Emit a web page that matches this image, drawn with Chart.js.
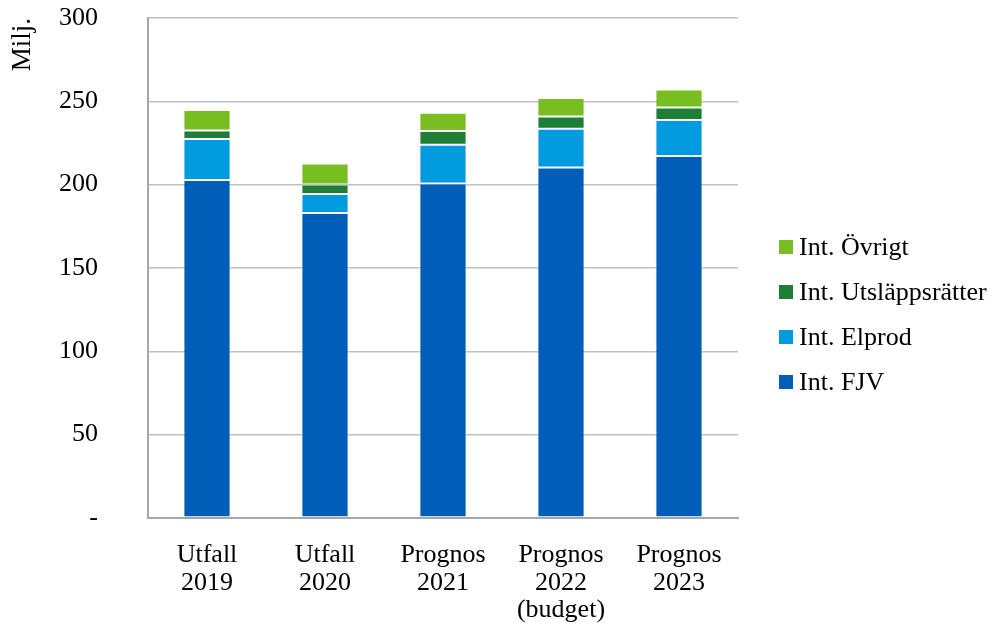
<!DOCTYPE html>
<html>
<head>
<meta charset="utf-8">
<script src="https://cdn.jsdelivr.net/npm/chart.js@4"></script>
<style>
  html,body{margin:0;padding:0;background:#fff;}
  #wrap{width:999px;height:623px;}
</style>
</head>
<body>
<div id="wrap"><canvas id="c" width="999" height="623"></canvas></div>
<script>
const categories = [['Utfall','2019'],['Utfall','2020'],['Prognos','2021'],['Prognos','2022','(budget)'],['Prognos','2023']];
const fjv = [202.8, 183.0, 200.7, 210.3, 217.2];
const elprod = [24.6, 11.4, 23.2, 23.2, 21.6];
const utslapp = [5.1, 5.7, 8.3, 7.4, 7.5];
const ovrigt = [12.3, 12.6, 10.9, 11.1, 10.8];
const yTicks = [0, 50, 100, 150, 200, 250, 300];

const FONT = '"Liberation Serif", "Times New Roman", serif';
const SEG = 'rgba(255,255,255,0.3)';

function ds(label, data, color){
  return { label, data, backgroundColor: color, borderColor: SEG, borderWidth: 1, borderSkipped: false,
           barPercentage: 0.4, categoryPercentage: 1 };
}

// legend drawn on the right, top item = last dataset
const sideLegend = {
  id: 'sideLegend',
  afterDraw(chart) {
    const ctx = chart.ctx;
    const items = chart.data.datasets.slice().reverse();
    ctx.save();
    ctx.font = '26px ' + FONT;
    ctx.textBaseline = 'middle';
    ctx.textAlign = 'left';
    items.forEach((d, i) => {
      const y = 247 + i * 45;
      ctx.fillStyle = d.backgroundColor;
      ctx.fillRect(779, y - 7, 14, 14);
      ctx.fillStyle = '#000';
      ctx.fillText(d.label, 799, y + 1);
    });
    ctx.restore();
  }
};

Chart.defaults.font.family = FONT;
Chart.defaults.color = '#000';

new Chart(document.getElementById('c'), {
  type: 'bar',
  data: {
    labels: categories,
    datasets: [
      ds('Int. FJV', fjv, '#005eb8'),
      ds('Int. Elprod', elprod, '#009bde'),
      ds('Int. Utsläppsrätter', utslapp, '#1e7d36'),
      ds('Int. Övrigt', ovrigt, '#78be20')
    ]
  },
  options: {
    responsive: false,
    animation: false,
    layout: { padding: { top: 0, right: 261 } },
    plugins: {
      tooltip: { enabled: false },
      legend: { display: false }
    },
    scales: {
      x: {
        stacked: true,
        grid: { display: false },
        border: { display: true, color: '#a6a6a6', width: 2 },
        ticks: { font: { size: 26, lineHeight: 1.05 }, padding: 16, maxRotation: 0, autoSkip: false },
        afterFit: s => { s.height = 105; }
      },
      y: {
        stacked: true,
        min: 0, max: 300,
        afterBuildTicks: s => { s.ticks = yTicks.map(v => ({ value: v })); },
        grid: { color: '#c0c0c0', lineWidth: 1.5, drawTicks: false },
        border: { display: true, color: '#a6a6a6', width: 2 },
        ticks: { font: { size: 26 }, padding: 50, callback: v => v === 0 ? '-' : v },
        title: { display: true, text: 'Milj.', align: 'end', font: { size: 27 }, padding: { top: 7, bottom: 0 } },
        afterFit: s => { s.width = 148; s.paddingTop = 18; s.paddingBottom = 14; }
      }
    }
  },
  plugins: [sideLegend]
});
</script>
</body>
</html>
